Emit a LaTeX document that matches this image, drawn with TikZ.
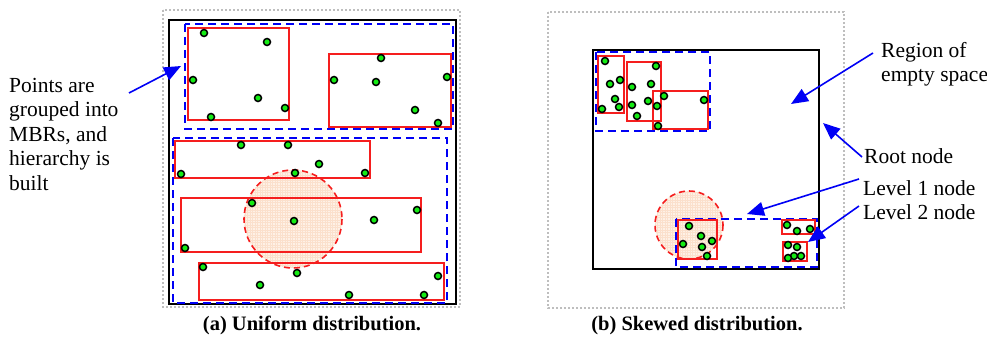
\documentclass[tikz,border=0pt]{standalone}
\usepackage{fontspec}
\setmainfont{Liberation Serif}
\usetikzlibrary{arrows.meta}
\definecolor{ptgreen}{RGB}{20,235,20}
\definecolor{mbrred}{RGB}{245,30,30}
\definecolor{nodeblue}{RGB}{0,0,245}
\definecolor{framegray}{RGB}{190,190,190}
\definecolor{queryfill}{RGB}{254,241,230}
\definecolor{querymesh}{RGB}{251,224,204}
\tikzset{
  pt/.style={circle, draw=black, line width=1.5pt, fill=ptgreen, inner sep=0pt, minimum size=7pt},
  frame/.style={draw=framegray, line width=2pt, dash pattern=on 2pt off 2pt},
  rootbox/.style={draw=black, line width=2.2pt},
  levelone/.style={draw=nodeblue, line width=2pt, dash pattern=on 8pt off 5pt},
  leveltwo/.style={draw=mbrred, line width=1.3pt},
  query/.style={draw=mbrred, line width=1.6pt, dash pattern=on 6pt off 4pt},
  mesh/.style={draw=querymesh, line width=0.5pt},
  callout/.style={draw=nodeblue, line width=1.6pt, -{Triangle[length=17pt,width=14pt]}},
  lbl/.style={font=\fontsize{21.5}{24.5}\selectfont, align=left, inner sep=0pt},
  captiontext/.style={font=\fontsize{20.5}{23}\selectfont\bfseries, inner sep=0pt}
}
% shaded query region: light fill, fine mesh, dashed outline
\newcommand{\queryregion}[3]{%
  \fill[queryfill] (#1,#2) circle (#3);
  \begin{scope}
    \clip (#1,#2) circle (#3);
    \draw[mesh, step=2.5pt] (#1-#3,#2-#3) grid (#1+#3,#2+#3);
  \end{scope}
  \draw[query] (#1,#2) circle (#3);
}
\begin{document}
\begin{tikzpicture}[x=1pt,y=-1pt]
\useasboundingbox (0,0) rectangle (987,337);

% ---------- (a) uniform distribution ----------
\draw[frame] (163,10) rectangle (460,307);
\draw[rootbox] (169,20) rectangle (456,304);
\queryregion{293}{219}{49}
\draw[levelone] (185,24) rectangle (453,129);
\draw[levelone] (173,138) rectangle (447,303);
\draw[leveltwo] (188,28) rectangle (289,120);
\draw[leveltwo] (329,54) rectangle (451,127);
\draw[leveltwo] (175,141) rectangle (370,178);
\draw[leveltwo] (181,198) rectangle (421,252);
\draw[leveltwo] (199,263) rectangle (444,300);
\foreach \x/\y [count=\i] in {204/33,267/42,193/80,258/98,285/108,211/117,
  381/58,334/80,376/82,447/77,415/110,438/123,
  241/145,288/145,181/174,295/173,319/164,365/173,
  252/203,294/221,185/248,417/210,374/220,
  203/267,297/273,260/285,438/276,349/295,424/295}
  \node[pt] (a\i) at (\x,\y) {};

% ---------- (b) skewed distribution ----------
\draw[frame] (548,12) rectangle (844,308);
\draw[rootbox] (593,50) rectangle (819,269);
\queryregion{689}{225}{34}
\draw[levelone] (596,52) rectangle (710,131);
\draw[levelone] (676,219) rectangle (817,267);
\draw[leveltwo] (598,56) rectangle (624,113);
\draw[leveltwo] (627,62) rectangle (661,121);
\draw[leveltwo] (653,91) rectangle (708,129);
\draw[leveltwo] (678,220) rectangle (717,259);
\draw[leveltwo] (782,220) rectangle (815,234);
\draw[leveltwo] (783,242) rectangle (807,261);
\foreach \x/\y [count=\i] in {605/61,610/84,620/80,615/99,619/107,602/109,
  656/66,632/87,651/84,632/105,648/101,657/106,637/116,
  664/96,658/126,704/100,
  689/226,701/236,712/241,683/244,702/247,707/256,
  787/225,797/231,810/229,
  788/245,797/247,794/256,788/258,801/256}
  \node[pt] (b\i) at (\x,\y) {};

% ---------- labels and callouts ----------
\node[lbl, anchor=north west] (grp) at (9,78) {Points are\\grouped into\\MBRs, and\\hierarchy is\\built};
\coordinate (grpS) at (129,93);
\coordinate (grpT) at (181,66);
\draw[callout] (grpS) -- (grpT);

\node[lbl, anchor=north west] (empty) at (881,42) {Region of\\empty space};
\node[lbl, anchor=north west] (root) at (864,148) {Root node};
\node[lbl, anchor=north west] (lvl) at (863,180) {Level 1 node\\Level 2 node};
\coordinate (emptyS) at (873,53);
\coordinate (emptyT) at (791,104);
\coordinate (rootS) at (862,157);
\coordinate (rootT) at (823,123);
\coordinate (oneS) at (859,179);
\coordinate (oneT) at (747,214);
\coordinate (twoS) at (859,206);
\coordinate (twoT) at (808,242);
\draw[callout] (emptyS) -- (emptyT);
\draw[callout] (rootS) -- (rootT);
\draw[callout] (oneS) -- (oneT);
\draw[callout] (twoS) -- (twoT);

\node[captiontext, anchor=base] (capa) at (312,330) {(a) Uniform distribution.};
\node[captiontext, anchor=base] (capb) at (697,330) {(b) Skewed distribution.};
\end{tikzpicture}
\end{document}
